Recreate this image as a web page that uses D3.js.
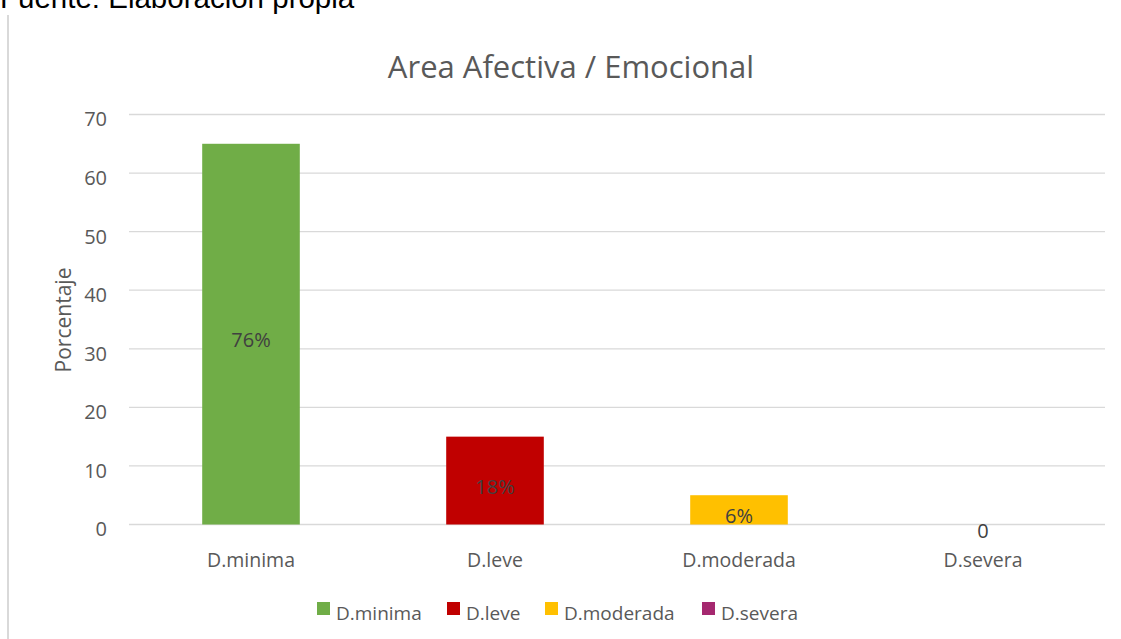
<!DOCTYPE html>
<html>
<head>
<meta charset="utf-8">
<script src="https://cdn.jsdelivr.net/npm/d3@7"></script>
<style>
  body { margin: 0; background: #fff; }
  svg { display: block; }
</style>
</head>
<body>
<div id="vis-container"></div>
<script>
// data
const categories = ["D.minima", "D.leve", "D.moderada", "D.severa"];
const values = [65, 15, 5, 0];
const labels = ["76%", "18%", "6%", "0"];
const colors = ["#70ad47", "#c00000", "#ffc000", "#a5286f"];
const yTicks = [0, 10, 20, 30, 40, 50, 60, 70];

const w = 1121, h = 639;
const margin = { left: 129, right: 16 };
const font = "'Open Sans', sans-serif";
const textColor = "#595959";

const svg = d3.select("#vis-container")
    .append("svg")
    .attr("width", w)
    .attr("height", h);

// source note at the top, cut off by the edge like in the original
svg.append("text")
    .attr("x", 0)
    .attr("y", 8)
    .style("font-family", "'Liberation Sans', Arial, sans-serif")
    .style("font-size", "29.5px")
    .style("fill", "#000")
    .text("Fuente: Elaboración propia");

// left border of the chart frame
svg.append("line")
    .attr("x1", 8).attr("x2", 8)
    .attr("y1", 15).attr("y2", h)
    .attr("stroke", "#d9d9d9")
    .attr("stroke-width", 2);

//scale function
const xScale = d3.scaleBand()
    .domain(categories)
    .range([margin.left, w - margin.right])
    .paddingInner(0.6)
    .paddingOuter(0.3);

const yScale = d3.scaleLinear()
    .domain([0, 70])
    .range([524.5, 114.5]);

// gridlines
svg.append("g")
    .selectAll("line")
    .data(yTicks)
    .enter()
    .append("line")
    .attr("x1", margin.left)
    .attr("x2", w - margin.right)
    .attr("y1", d => yScale(d))
    .attr("y2", d => yScale(d))
    .attr("stroke", "#d9d9d9")
    .attr("stroke-width", 1.3);

// y axis labels
const yAxis = d3.axisLeft(yScale).tickValues(yTicks).tickSize(0).tickPadding(0);
const yg = svg.append("g")
    .attr("transform", "translate(107,5)")
    .call(yAxis);
yg.select(".domain").remove();
yg.selectAll("text")
    .style("font-family", font)
    .style("font-size", "20px")
    .style("fill", textColor);

// x axis labels
const xAxis = d3.axisBottom(xScale).tickSize(0).tickPadding(0);
const xg = svg.append("g")
    .attr("transform", "translate(0,553)")
    .call(xAxis);
xg.select(".domain").remove();
xg.selectAll("text")
    .style("font-family", font)
    .style("font-size", "19.5px")
    .style("fill", textColor);

// bars
svg.selectAll(".bar")
    .data(values)
    .enter()
    .append("rect")
    .attr("class", "bar")
    .attr("x", (d, i) => xScale(categories[i]))
    .attr("width", xScale.bandwidth())
    .attr("y", d => yScale(d))
    .attr("height", d => yScale(0) - yScale(d))
    .attr("fill", (d, i) => colors[i]);

// data labels
svg.selectAll(".lbl")
    .data(values)
    .enter()
    .append("text")
    .attr("class", "lbl")
    .attr("x", (d, i) => xScale(categories[i]) + xScale.bandwidth() / 2)
    .attr("y", d => (yScale(d) + yScale(0)) / 2 + 6)
    .attr("dy", "0.35em")
    .attr("text-anchor", "middle")
    .style("font-family", font)
    .style("font-size", "20px")
    .style("fill", "#404040")
    .text((d, i) => labels[i]);

// title
svg.append("text")
    .attr("x", 571)
    .attr("y", 78)
    .attr("text-anchor", "middle")
    .style("font-family", font)
    .style("font-size", "31px")
    .style("fill", textColor)
    .text("Area Afectiva / Emocional");

// y axis title
svg.append("text")
    .attr("transform", "translate(71,320) rotate(-90)")
    .attr("text-anchor", "middle")
    .style("font-family", font)
    .style("font-size", "21px")
    .style("fill", textColor)
    .text("Porcentaje");

// legend
const legendX = [317, 447, 545, 702];
const legend = svg.selectAll(".legend")
    .data(categories)
    .enter().append("g")
    .attr("class", "legend")
    .attr("transform", (d, i) => "translate(" + legendX[i] + ",602)");

legend.append("rect")
    .attr("width", 13)
    .attr("height", 13)
    .style("fill", (d, i) => colors[i]);

legend.append("text")
    .attr("x", 19)
    .attr("y", 18)
    .style("font-family", font)
    .style("font-size", "19px")
    .style("fill", textColor)
    .text(d => d);
</script>
</body>
</html>
